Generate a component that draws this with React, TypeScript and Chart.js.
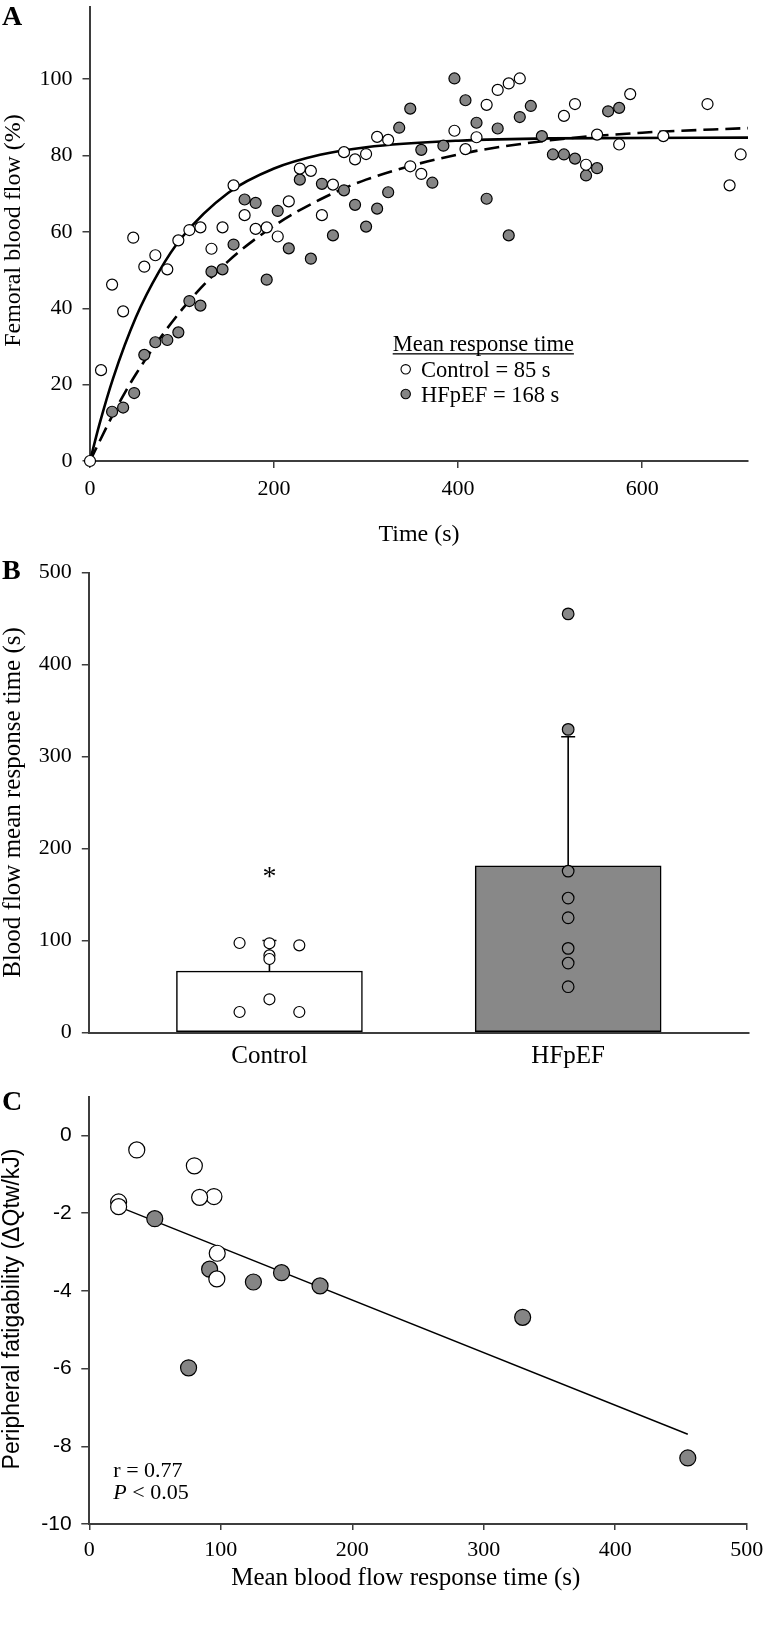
import React, { useEffect, useRef } from 'react';
import { Chart, registerables } from 'chart.js';

Chart.register(...registerables);

// ---------------- Panel A: femoral blood flow kinetics ----------------
const controlTime = [0, 12, 24, 36, 47, 59, 71, 84, 96, 108, 120, 132, 144, 156, 168, 180, 192, 204, 216, 228, 240, 252, 264, 276, 288, 300, 312, 324, 348, 360, 396, 408, 420, 431, 443, 455, 467, 515, 527, 539, 551, 575, 587, 623, 671, 695, 707];
const controlFlow = [0, 23.8, 46.2, 39.2, 58.5, 50.9, 53.9, 50.2, 57.8, 60.5, 61.2, 55.6, 61.2, 72.2, 64.4, 60.8, 61.2, 58.8, 68, 76.6, 76, 64.4, 72.4, 80.9, 79, 80.4, 84.9, 84.1, 77.2, 75.2, 86.5, 81.7, 84.8, 93.3, 97.2, 98.9, 100.2, 90.4, 93.5, 77.6, 85.5, 82.9, 96.1, 85.1, 93.5, 72.2, 80.3];
const hfpefTime = [24, 36, 48, 59, 71, 84, 96, 108, 120, 132, 144, 156, 168, 180, 192, 204, 216, 228, 240, 252, 264, 276, 288, 300, 312, 324, 336, 348, 360, 372, 384, 396, 408, 420, 431, 443, 455, 467, 479, 491, 503, 515, 527, 539, 551, 563, 575];
const hfpefFlow = [12.9, 14, 17.8, 27.8, 31.1, 31.7, 33.7, 41.9, 40.7, 49.6, 50.2, 56.7, 68.5, 67.6, 47.5, 65.5, 55.7, 73.7, 53, 72.6, 59.1, 70.9, 67.1, 61.4, 66.1, 70.4, 87.3, 92.3, 81.5, 72.9, 82.6, 100.2, 94.5, 88.6, 68.7, 87.1, 59.1, 90.1, 93, 85.1, 80.3, 80.3, 79.2, 74.8, 76.7, 91.6, 92.5];
const controlFitTime = [0, 10, 25, 50, 75, 100, 150, 200, 250, 300, 400, 500, 715];
const controlFitFlow = [0, 9.4, 21.6, 37.7, 49.6, 58.6, 70.2, 76.6, 80.2, 82.2, 83.9, 84.5, 84.7];
const hfpefFitTime = [0, 25, 50, 100, 150, 200, 250, 300, 400, 500, 600, 715];
const hfpefFitFlow = [0, 12.2, 22.8, 39.7, 52.3, 61.6, 68.5, 73.7, 80.3, 84.0, 86.0, 87.2];
const flowTicks = [0, 20, 40, 60, 80, 100];
const timeTicks = [0, 200, 400, 600];

// ---------------- Panel B: mean response time ----------------
const groupLabels = ['Control', 'HFpEF'];
const groupMeanMRT = [66.7, 181.3];
const groupSDMRT = [33.3, 140.3];
const controlMRT = [97.3, 97.0, 94.8, 83.9, 79.9, 36.1, 22.3, 22.3];
const hfpefMRT = [455.2, 329.6, 175.5, 146.2, 124.8, 91.5, 75.5, 49.8];
const mrtTicks = [0, 100, 200, 300, 400, 500];

// ---------------- Panel C: correlation ----------------
const controlFatigue = [-3.03, -3.69, -1.57, -1.59, -0.78, -0.37, -1.71, -1.83];
const hfpefFatigue = [-8.3, -4.68, -3.87, -3.53, -3.77, -3.44, -5.98, -2.14];
const regressionMRT = [22.3, 455.2];
const regressionFatigue = [-1.83, -7.69];
const fatigueTicks = [-10, -8, -6, -4, -2, 0];
const mrtTicksC = [0, 100, 200, 300, 400, 500];

// ---------------- styling ----------------
const SERIF = "'Liberation Serif', 'Times New Roman', serif";
const SANS = "'Liberation Sans', Arial, sans-serif";
const AXIS_COLOR = '#3d3d3d';
const GRAY = '#858585';
const BAR_GRAY = '#888888';
const W = 763;

const pts = (xs: number[], ys: number[]) => xs.map((x, i) => ({ x, y: ys[i] }));

function makeAxis(o: any) {
  return {
    type: 'linear',
    position: o.pos === 'x' ? 'bottom' : 'left',
    min: o.min,
    max: o.max,
    offset: false,
    afterBuildTicks: (s: any) => {
      s.ticks = o.ticks.map((v: number) => ({ value: v }));
    },
    afterFit: (s: any) => {
      if (o.pos === 'x') s.height = o.fit;
      else s.width = o.fit;
      s.paddingLeft = 0;
      s.paddingRight = 0;
      s.paddingTop = 0;
      s.paddingBottom = 0;
    },
    grid: {
      display: o.tickLen > 0,
      drawOnChartArea: false,
      drawTicks: true,
      tickLength: o.tickLen,
      color: AXIS_COLOR,
      lineWidth: 1.5,
      offset: false,
    },
    border: { display: true, color: AXIS_COLOR, width: 2 },
    ticks: {
      color: '#000',
      padding: o.pad,
      font: o.font,
      autoSkip: false,
      maxRotation: 0,
      minRotation: 0,
      callback: o.labels ? o.labels : (v: any) => String(v),
    },
    title: { display: false },
  };
}

type Run = { text: string; font: string };
type Label = { runs: Run[]; x: number; y: number; align?: 'left' | 'center'; baseline?: CanvasTextBaseline; rotate?: boolean; underline?: boolean };

function textPlugin(id: string, labels: Label[], extra?: (ctx: CanvasRenderingContext2D, chart: any) => void) {
  return {
    id,
    afterDraw(chart: any) {
      const ctx = chart.ctx as CanvasRenderingContext2D;
      ctx.save();
      ctx.fillStyle = '#000';
      for (const l of labels) {
        ctx.save();
        ctx.translate(l.x, l.y);
        if (l.rotate) ctx.rotate(-Math.PI / 2);
        ctx.textBaseline = l.baseline || 'alphabetic';
        ctx.textAlign = 'left';
        let total = 0;
        for (const r of l.runs) {
          ctx.font = r.font;
          total += ctx.measureText(r.text).width;
        }
        let x = l.align === 'center' ? -total / 2 : 0;
        const x0 = x;
        for (const r of l.runs) {
          ctx.font = r.font;
          ctx.fillText(r.text, x, 0);
          x += ctx.measureText(r.text).width;
        }
        if (l.underline) ctx.fillRect(x0, 2.2, total, 1.3);
        ctx.restore();
      }
      if (extra) extra(ctx, chart);
      ctx.restore();
    },
  };
}

const baseOptions = (padTop: number, padRight: number) => ({
  responsive: false,
  animation: false,
  devicePixelRatio: 1,
  events: [],
  layout: { padding: { top: padTop, right: padRight, left: 0, bottom: 0 } },
  plugins: { legend: { display: false }, tooltip: { enabled: false } },
});

const pointStyle = (fill: string, r: number) => ({
  pointRadius: r,
  pointHoverRadius: r,
  pointBackgroundColor: fill,
  pointBorderColor: '#000',
  pointBorderWidth: 1.2,
  showLine: false,
  clip: false,
});

// ---------------- Panel A config ----------------
function configA(): any {
  const legend = (ctx: CanvasRenderingContext2D) => {
    const circ = (x: number, y: number, fill: string) => {
      ctx.beginPath();
      ctx.arc(x, y, 4.7, 0, Math.PI * 2);
      ctx.fillStyle = fill;
      ctx.fill();
      ctx.lineWidth = 1.1;
      ctx.strokeStyle = '#000';
      ctx.stroke();
    };
    circ(405.7, 369.3, '#fff');
    circ(405.7, 394, GRAY);
  };
  return {
    type: 'scatter',
    data: {
      datasets: [
        { type: 'scatter', data: pts(controlTime, controlFlow), ...pointStyle('#fff', 5.5), order: 0 },
        { type: 'scatter', data: pts(hfpefTime, hfpefFlow), ...pointStyle(GRAY, 5.5), order: 0 },
        { type: 'line', data: pts(controlFitTime, controlFitFlow), borderColor: '#000', borderWidth: 2.6, pointRadius: 0, cubicInterpolationMode: 'monotone', fill: false, order: 1 },
        { type: 'line', data: pts(hfpefFitTime, hfpefFitFlow), borderColor: '#000', borderWidth: 2.6, borderDash: [15, 7], pointRadius: 0, cubicInterpolationMode: 'monotone', fill: false, order: 1 },
      ],
    },
    options: {
      ...baseOptions(0, 15),
      scales: {
        x: makeAxis({ pos: 'x', min: 0, max: 715, ticks: timeTicks, fit: 555 - 461, tickLen: 7, pad: 8.5, font: { family: SERIF, size: 22 } }),
        y: makeAxis({ pos: 'y', min: 0, max: 119, ticks: flowTicks, fit: 90, tickLen: 7.5, pad: 10, font: { family: SERIF, size: 22 } }),
      },
    },
    plugins: [
      textPlugin('textA', [
        { runs: [{ text: 'A', font: `bold 28px ${SERIF}` }], x: 2, y: 25 },
        { runs: [{ text: 'Femoral blood flow (%)', font: `24px ${SERIF}` }], x: 14, y: 230.5, align: 'center', baseline: 'middle', rotate: true },
        { runs: [{ text: 'Time (s)', font: `24px ${SERIF}` }], x: 419, y: 535, align: 'center', baseline: 'middle' },
        { runs: [{ text: 'Mean response time', font: `22.5px ${SERIF}` }], x: 392.7, y: 351, underline: true },
        { runs: [{ text: 'Control = 85 s', font: `22.5px ${SERIF}` }], x: 421, y: 376.5 },
        { runs: [{ text: 'HFpEF = 168 s', font: `22.5px ${SERIF}` }], x: 421, y: 401.5 },
      ], legend),
    ],
  };
}

// ---------------- Panel B config ----------------
function configB(): any {
  const controlOffsets = [-0.1, 0, 0.1, 0, 0, 0, -0.1, 0.1];
  const errorBars = {
    id: 'errorBars',
    afterDatasetDraw(chart: any, args: any) {
      if (args.meta.type !== 'bar') return;
      const ctx = chart.ctx as CanvasRenderingContext2D;
      const xs = chart.scales.x;
      const ys = chart.scales.y;
      ctx.save();
      ctx.strokeStyle = '#000';
      ctx.lineWidth = 1.6;
      groupMeanMRT.forEach((m, i) => {
        const x = xs.getPixelForValue(i + 1);
        const y0 = ys.getPixelForValue(m);
        const y1 = ys.getPixelForValue(m + groupSDMRT[i]);
        ctx.beginPath();
        ctx.moveTo(x, y0);
        ctx.lineTo(x, y1);
        ctx.moveTo(x - 7, y1);
        ctx.lineTo(x + 7, y1);
        ctx.stroke();
      });
      ctx.restore();
    },
  };
  const star = (ctx: CanvasRenderingContext2D, chart: any) => {
    const x = chart.scales.x.getPixelForValue(1);
    const y = chart.scales.y.getPixelForValue(176);
    ctx.fillStyle = '#000';
    ctx.font = `28px ${SERIF}`;
    ctx.textAlign = 'center';
    ctx.textBaseline = 'alphabetic';
    ctx.fillText('*', x, y + 14);
  };
  return {
    type: 'bar',
    data: {
      datasets: [
        {
          type: 'bar',
          data: groupMeanMRT.map((m, i) => ({ x: i + 1, y: m })),
          backgroundColor: ['#ffffff', BAR_GRAY],
          borderColor: '#000',
          borderWidth: 1.5,
          borderSkipped: false,
          barThickness: 186,
          order: 1,
        },
        { type: 'scatter', data: controlMRT.map((v, i) => ({ x: 1 + controlOffsets[i], y: v })), ...pointStyle('#fff', 5.5), order: 0 },
        { type: 'scatter', data: hfpefMRT.map((v) => ({ x: 2, y: v })), ...pointStyle(BAR_GRAY, 5.8), order: 0 },
      ],
    },
    options: {
      ...baseOptions(17.7, 14.7),
      scales: {
        x: makeAxis({
          pos: 'x', min: 0.397, max: 2.603, ticks: [1, 2], fit: 515 - 477.5, tickLen: 0, pad: 8.5,
          font: { family: SERIF, size: 25 },
          labels: (v: any) => groupLabels[Math.round(v) - 1] || '',
        }),
        y: makeAxis({ pos: 'y', min: 0, max: 500, ticks: mrtTicks, fit: 89.3, tickLen: 7.5, pad: 10, font: { family: SERIF, size: 22 } }),
      },
    },
    plugins: [
      errorBars,
      textPlugin('textB', [
        { runs: [{ text: 'B', font: `bold 28px ${SERIF}` }], x: 2, y: 24 },
        { runs: [{ text: 'Blood flow mean response time (s)', font: `25px ${SERIF}` }], x: 13, y: 247.5, align: 'center', baseline: 'middle', rotate: true },
      ], star),
    ],
  };
}

// ---------------- Panel C config ----------------
function configC(): any {
  return {
    type: 'scatter',
    data: {
      datasets: [
        { type: 'scatter', data: pts(controlMRT, controlFatigue), ...pointStyle('#fff', 8), order: 0 },
        { type: 'scatter', data: pts(hfpefMRT, hfpefFatigue), ...pointStyle(GRAY, 8), order: 0 },
        { type: 'line', data: pts(regressionMRT, regressionFatigue), borderColor: '#000', borderWidth: 1.4, pointRadius: 0, fill: false, order: 1 },
      ],
    },
    options: {
      ...baseOptions(26.7, 16.3),
      scales: {
        x: makeAxis({ pos: 'x', min: 0, max: 500, ticks: mrtTicksC, fit: 563 - 454, tickLen: 6, pad: 7.5, font: { family: SERIF, size: 22 } }),
        y: makeAxis({ pos: 'y', min: -10, max: 1, ticks: fatigueTicks, fit: 89.3, tickLen: 8, pad: 9.6, font: { family: SANS, size: 21 } }),
      },
    },
    plugins: [
      textPlugin('textC', [
        { runs: [{ text: 'C', font: `bold 28px ${SERIF}` }], x: 2, y: 40 },
        { runs: [{ text: 'Peripheral fatigability (\u0394Qtw/kJ)', font: `23px ${SANS}` }], x: 13, y: 239, align: 'center', baseline: 'middle', rotate: true },
        { runs: [{ text: 'Mean blood flow response time (s)', font: `25px ${SERIF}` }], x: 405.8, y: 508, align: 'center', baseline: 'middle' },
        { runs: [{ text: 'r = 0.77', font: `22px ${SERIF}` }], x: 113.3, y: 406.7 },
        { runs: [{ text: 'P', font: `italic 22px ${SERIF}` }, { text: ' < 0.05', font: `22px ${SERIF}` }], x: 113.3, y: 429.3 },
      ]),
    ],
  };
}

function Panel({ top, height, make }: { top: number; height: number; make: () => any }) {
  const ref = useRef<HTMLCanvasElement>(null);
  useEffect(() => {
    if (!ref.current) return;
    const chart = new Chart(ref.current, make());
    return () => chart.destroy();
  }, []);
  return (
    <canvas
      ref={ref}
      width={W}
      height={height}
      style={{ position: 'absolute', left: 0, top, width: W, height, display: 'block' }}
    />
  );
}

export default function App() {
  return (
    <div style={{ position: 'absolute', left: 0, top: 0, width: W, height: 1633, background: '#fff', overflow: 'hidden' }}>
      <Panel top={0} height={555} make={configA} />
      <Panel top={555} height={515} make={configB} />
      <Panel top={1070} height={563} make={configC} />
    </div>
  );
}
